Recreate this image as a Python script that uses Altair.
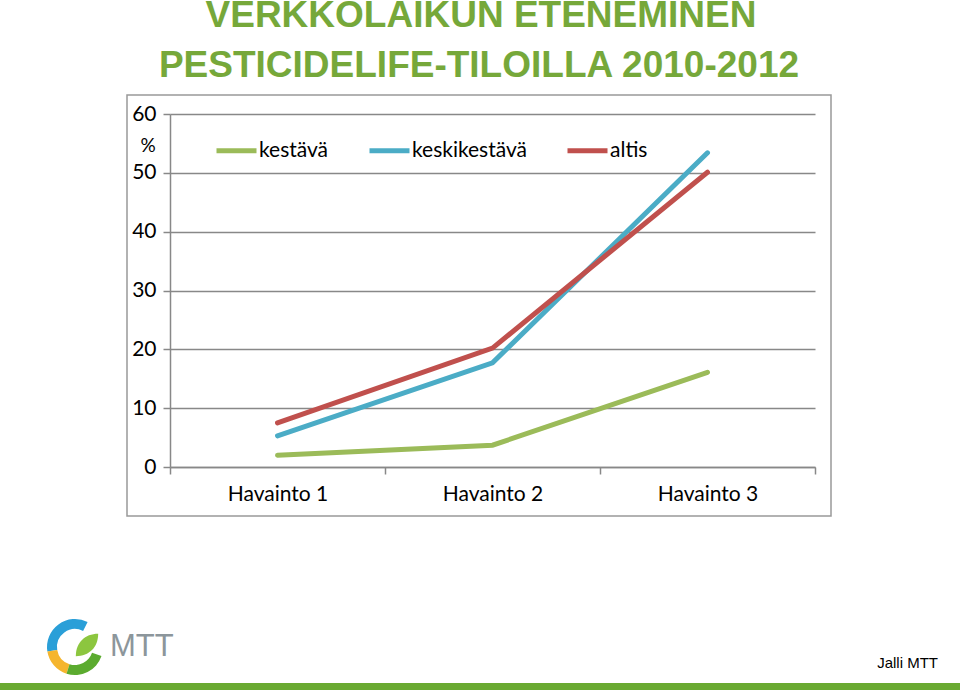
import altair as alt
import pandas as pd

categories = ["Havainto 1", "Havainto 2", "Havainto 3"]
series_names = ["kestävä", "keskikestävä", "altis"]
kestava = [2.0, 3.7, 16.1]
keskikestava = [5.3, 17.7, 53.4]
altis = [7.5, 20.2, 50.1]
series_colors = ["#9bbb59", "#4bacc6", "#c0504d"]
y_ticks = [0, 10, 20, 30, 40, 50, 60]
title_lines = ["VERKKOLAIKUN ETENEMINEN", "PESTICIDELIFE-TILOILLA 2010-2012"]

rows = []
for name, vals in zip(series_names, [kestava, keskikestava, altis]):
    for c, v in zip(categories, vals):
        rows.append({"cat": c, "series": name, "value": v})
df = pd.DataFrame(rows)
one = pd.DataFrame({"k": [0]})

W, H = 645, 353
LABEL_FONT = "Lato"

lines = alt.Chart(df).mark_line(strokeWidth=5, strokeCap="round").encode(
    x=alt.X("cat:N", sort=categories, title=None,
            scale=alt.Scale(paddingInner=0, paddingOuter=0),
            axis=alt.Axis(labelAngle=0, tickBand="extent", tickSize=7, tickColor="#888888",
                          domainColor="#888888", domainWidth=1.5, tickWidth=1.5,
                          labelFont=LABEL_FONT, labelFontSize=21, labelColor="#000000",
                          labelPadding=9, grid=False)),
    y=alt.Y("value:Q", title=None,
            scale=alt.Scale(domain=[0, 60], nice=False),
            axis=alt.Axis(values=y_ticks, tickSize=7, tickColor="#888888", tickWidth=1.5,
                          domainColor="#888888", domainWidth=1.5,
                          gridColor="#888888", gridWidth=1.5,
                          labelFont=LABEL_FONT, labelFontSize=21, labelColor="#000000",
                          labelPadding=7)),
    color=alt.Color("series:N", sort=series_names, title=None,
                    scale=alt.Scale(domain=series_names, range=series_colors),
                    legend=alt.Legend(orient="none", legendX=44, legendY=14,
                                      direction="horizontal", symbolType="stroke",
                                      symbolSize=1600, symbolStrokeWidth=5,
                                      labelFont=LABEL_FONT, labelFontSize=21,
                                      labelColor="#000000", labelOffset=0,
                                      columnPadding=30)),
)

# outer frame of the chart
frame = alt.Chart(one).mark_rect(fill="transparent", stroke="#999999", strokeWidth=1.5).encode(
    x=alt.value(-43), x2=alt.value(661), y=alt.value(-19), y2=alt.value(402)
)

pct = alt.Chart(one).mark_text(text="%", font=LABEL_FONT, fontSize=19, color="#000000",
                               align="center", baseline="alphabetic").encode(
    x=alt.value(-22), y=alt.value(38)
)

title1 = alt.Chart(one).mark_text(text=title_lines[0], font="Liberation Sans",
                                  fontWeight="bold", fontSize=37, color="#76a83a",
                                  align="center", baseline="alphabetic").encode(
    x=alt.value(311), y=alt.value(-87)
)
title2 = alt.Chart(one).mark_text(text=title_lines[1], font="Liberation Sans",
                                  fontWeight="bold", fontSize=37, color="#76a83a",
                                  align="center", baseline="alphabetic").encode(
    x=alt.value(309), y=alt.value(-37)
)

# footer
bar = alt.Chart(one).mark_rect(fill="#6aaa32").encode(
    x=alt.value(-170), x2=alt.value(790), y=alt.value(569), y2=alt.value(576)
)
jalli = alt.Chart(one).mark_text(text="Jalli MTT", font="Liberation Sans", fontSize=15,
                                 color="#000000", align="right", baseline="alphabetic").encode(
    x=alt.value(768), y=alt.value(554)
)

# simple logo
cx, cy = 75 - 170, 647 - 114
blue_arc = alt.Chart(one).mark_arc(theta=4.55, theta2=6.75, radius=28, radius2=18,
                                   fill="#2a9fd8").encode(x=alt.value(cx), y=alt.value(cy))
yellow_arc = alt.Chart(one).mark_arc(theta=3.45, theta2=4.55, radius=28, radius2=18,
                                     fill="#f5b52e").encode(x=alt.value(cx), y=alt.value(cy))
green_arc = alt.Chart(one).mark_arc(theta=1.9, theta2=3.45, radius=28, radius2=18,
                                    fill="#5bab2f").encode(x=alt.value(cx), y=alt.value(cy))
leaf = alt.Chart(one).mark_point(
    shape="M -1 1 C -1 -0.2 -0.2 -1 1 -1 C 1 0.2 0.2 1 -1 1 Z",
    filled=True, fill="#8cc63f", opacity=1, size=500
).encode(x=alt.value(cx + 12), y=alt.value(cy - 2))
mtt = alt.Chart(one).mark_text(text="MTT", font="Liberation Sans", fontSize=31,
                               color="#8c969b", align="left", baseline="alphabetic").encode(
    x=alt.value(110 - 170), y=alt.value(656 - 114)
)

chart = alt.layer(
    frame, lines, pct, title1, title2, bar, jalli,
    blue_arc, yellow_arc, green_arc, leaf, mtt
).properties(
    width=W, height=H,
    autosize=alt.AutoSizeParams(type="none"),
    padding={"left": 170, "top": 114, "right": 145, "bottom": 223},
    background="#ffffff",
).configure_view(stroke=None)

chart.save("out.html", embed_options={"renderer": "svg", "actions": False})
